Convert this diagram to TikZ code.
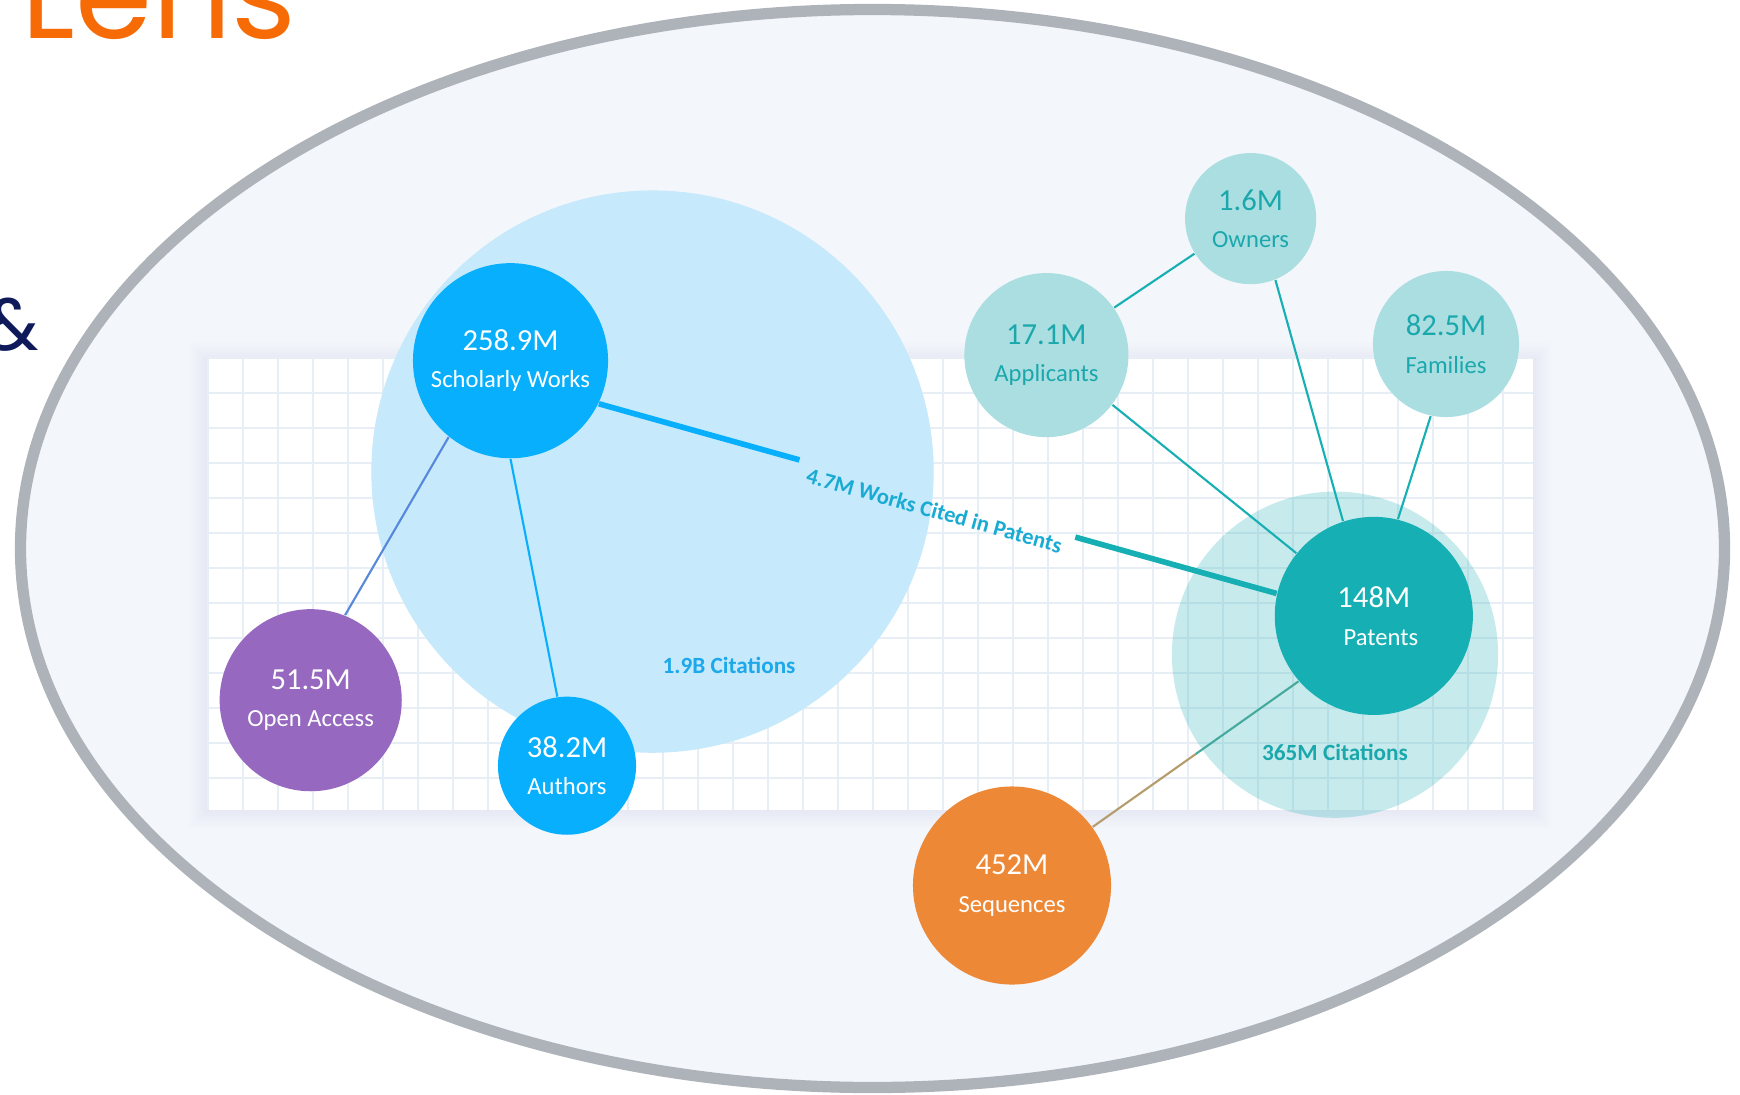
\documentclass[tikz,border=0pt]{standalone}
\usepackage{fontspec}
\setmainfont{Carlito}
\newfontfamily\brandfont{Poppins}
\definecolor{ringgray}{HTML}{AEB3BA}
\definecolor{ringfill}{HTML}{F3F6FB}
\definecolor{gridline}{HTML}{E8EEF5}
\definecolor{shadowblue}{HTML}{C9D2E2}
\definecolor{workblue}{HTML}{07AFFC}
\definecolor{workhalo}{HTML}{C6E9FB}
\definecolor{citeblue}{HTML}{1CA8EA}
\definecolor{oapurple}{HTML}{9768BF}
\definecolor{patteal}{HTML}{16AFB3}
\definecolor{patlight}{HTML}{ABDEE1}
\definecolor{pattext}{HTML}{1BA8AD}
\definecolor{seqorange}{HTML}{ED8936}
\definecolor{seqtan}{HTML}{B49C6C}
\definecolor{lensorange}{HTML}{F76B07}
\definecolor{ampnavy}{HTML}{0E1A5A}
\newcommand{\bubbletext}[2]{{\fontsize{8.7}{10}\selectfont #1}\\[-1.3pt]{\fontsize{7}{8}\selectfont #2}}
\begin{document}
\begin{tikzpicture}[x=0.01cm, y=-0.01cm,
bubble/.style={circle, inner sep=0pt, align=center, text=white},
halo/.style={circle, inner sep=0pt},
thinlink/.style={line width=0.6pt},
thicklink/.style={line width=1.6pt},
citelabel/.style={font=\bfseries\fontsize{6.6}{8}\selectfont, inner sep=0pt}]
\useasboundingbox (0,0) rectangle (1740,1094);
\node[font=\brandfont\fontsize{35.3}{38}\selectfont, text=lensorange, anchor=base west, inner sep=0pt] (lens) at (21,39) {Lens};
\node[font=\brandfont\fontsize{21}{24}\selectfont, text=ampnavy, anchor=base east, inner sep=0pt] (amp) at (40,350) {\&};
\draw[ringgray, fill=ringfill, line width=3.2pt] (872.5,548.5) ellipse [x radius=852, y radius=539];
\foreach \s in {3,6,...,18}
    \fill[shadowblue, opacity=0.045] (207-\s,357-\s+4) rectangle (1533+\s,810+\s);
\fill[white] (207,357) rectangle (1533,810);
\foreach \gx in {208,243,...,1533}
    \draw[gridline, line width=0.4pt] (\gx,357) -- (\gx,810);
\foreach \gy in {358,393,...,810}
    \draw[gridline, line width=0.4pt] (207,\gy) -- (1533,\gy);
\node[halo, fill=workhalo, minimum size=5.62cm] (workring) at (652.5,471.6) {};
\node[halo, fill=patteal, fill opacity=0.24, minimum size=3.26cm] (patring) at (1335,654.7) {};
\node[citelabel, text=citeblue] (workcite) at (729,665) {1.9B Citations};
\node[citelabel, text=pattext] (patcite) at (1335,752) {365M Citations};
\node[bubble, fill=workblue, minimum size=1.95cm] (works) at (510.5,360.7) {\bubbletext{258.9M}{Scholarly Works}};
\node[bubble, fill=oapurple, minimum size=1.82cm] (openaccess) at (310.7,700.2) {\bubbletext{51.5M}{Open Access}};
\node[bubble, fill=workblue, minimum size=1.38cm] (authors) at (567,765.7) {\bubbletext{38.2M}{Authors}};
\node[bubble, fill=patteal, minimum size=1.98cm] (patents) at (1373.8,615.9) {\bubbletext{148M}{\hspace*{4pt}Patents}};
\node[bubble, fill=patlight, text=pattext, minimum size=1.64cm] (applicants) at (1046.4,355.1) {\bubbletext{17.1M}{Applicants}};
\node[bubble, fill=patlight, text=pattext, minimum size=1.31cm] (owners) at (1250.6,218.6) {\bubbletext{1.6M}{Owners}};
\node[bubble, fill=patlight, text=pattext, minimum size=1.46cm] (families) at (1446,344) {\bubbletext{82.5M}{Families}};
\node[bubble, fill=seqorange, minimum size=1.98cm] (sequences) at (1012,885.5) {\bubbletext{452M}{Sequences}};
\path (works.-26) -- (patents.167)
    coordinate[pos=0.296] (gapa) coordinate[pos=0.703] (gapb)
    node[pos=0.5, sloped, anchor=north, font=\bfseries\fontsize{6.4}{8}\selectfont, text=citeblue!60!patteal, inner sep=1pt] (citedlabel) {4.7M Works Cited in Patents};
\draw[thicklink, workblue] (works.-26) -- (gapa);
\draw[thicklink, patteal] (gapb) -- (patents.167);
\draw[thinlink, workblue!45!oapurple] (works.231) -- (openaccess.68);
\draw[thinlink, workblue] (works.-90) -- (authors.98);
\draw[thinlink, patteal] (applicants.35) -- (owners.212);
\draw[thinlink, patteal] (applicants.-37.5) -- (patents.141);
\draw[thinlink, patteal] (owners.-68) -- (patents.108);
\draw[thinlink, patteal] (families.258) -- (patents.76);
\path (patents.221) -- (sequences.36.5) coordinate[pos=0.5] (seqmid);
\draw[thinlink, patteal!70!seqtan] (patents.221) -- (seqmid);
\draw[thinlink, seqtan] (seqmid) -- (sequences.36.5);
\end{tikzpicture}
\end{document}
